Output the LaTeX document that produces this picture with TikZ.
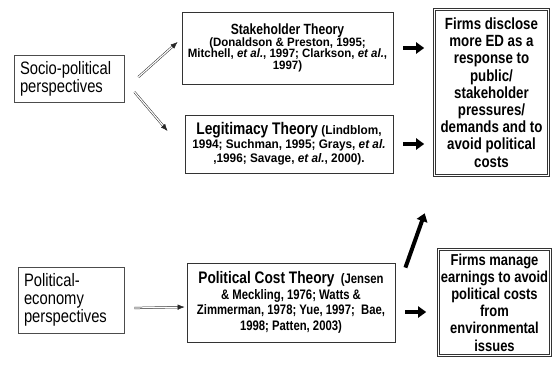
\documentclass[tikz,border=0pt]{standalone}
\usepackage{fontspec}
\setmainfont{Liberation Sans}
\newfontfamily\narrowfont{Liberation Sans}[FakeStretch=0.82]
\newfontfamily\citefont{Liberation Sans}[FakeStretch=0.95]
\usetikzlibrary{arrows.meta}

\begin{document}
\begin{tikzpicture}[x=1pt, y=-1pt]
    \tikzstyle{pblock} = [draw=black!70, line width=0.8pt, rectangle, inner xsep=6pt, inner ysep=0pt,
    align=left, font={\narrowfont\fontsize{18}{18}\selectfont}];
    \tikzstyle{tblock} = [draw=black!80, line width=0.8pt, rectangle, inner sep=0pt, align=center];
    \tikzstyle{rblock} = [draw=black!80, line width=0.6pt, double, double distance=1.8pt, rectangle,
    inner sep=0pt, align=center, font={\narrowfont\bfseries\fontsize{16.2}{17.2}\selectfont}];
    \tikzstyle{dline} = [draw=black!85, line width=0.5pt, double, double distance=1.2pt, -{Latex[length=7pt,width=5.5pt]}];
    \tikzstyle{bline} = [line width=4pt, -{Triangle[length=8pt,width=11pt]}];
    \useasboundingbox (0,0) rectangle (553,367);
    % perspectives
    \node [pblock, text width=98pt, minimum height=47pt] (socio) at (69,78.5) {Socio-political\\perspectives};
    \node [pblock, text width=94pt, minimum height=66pt] (polecon) at (71,300) {Political-\\economy\\perspectives};
    % theories
    \node [tblock, minimum width=211pt, minimum height=72pt,
    font={\citefont\bfseries\fontsize{12.1}{11.7}\selectfont\lineskiplimit=-6pt}] (stake) at (287.5,48)
    {{\narrowfont\fontsize{14.8}{14.8}\selectfont Stakeholder Theory}\\
    (Donaldson \& Preston, 1995;\\
    Mitchell, \textit{et al.}, 1997; Clarkson, \textit{et al.},\\
    1997)};
    \node [tblock, minimum width=208pt, minimum height=58pt,
    font={\citefont\bfseries\fontsize{12.4}{14}\selectfont\lineskiplimit=-6pt}] (legit) at (289,144)
    {{\narrowfont\fontsize{16.8}{16.8}\selectfont Legitimacy Theory} (Lindblom,\\
    1994; Suchman, 1995; Grays, \textit{et al.}\\
    ,1996; Savage, \textit{et al.}, 2000).};
    \node [tblock, minimum width=208pt, minimum height=79pt,
    font={\narrowfont\bfseries\fontsize{13.8}{15.5}\selectfont\lineskiplimit=-6pt}] (polcost) at (291,302.5)
    {{\fontsize{16.7}{16.7}\selectfont Political Cost Theory}\ \ (Jensen\\
    \& Meckling, 1976; Watts \&\\
    Zimmerman, 1978; Yue, 1997;\ \ Bae,\\
    1998; Patten, 2003)};
    % outcomes
    \node [rblock, minimum width=114pt, minimum height=166pt] (disclose) at (491.5,92.5)
    {Firms disclose\\more ED as a\\response to\\public/\\stakeholder\\pressures/\\demands and to\\avoid political\\costs};
    \node [rblock, minimum width=112pt, minimum height=106pt,
    font={\narrowfont\bfseries\fontsize{15.8}{17.2}\selectfont}] (manage) at (494.5,302.5)
    {Firms manage\\earnings to avoid\\political costs\\from\\environmental\\issues};
    % arrows
    \draw[dline] ([xshift=14pt,yshift=1.5pt]socio.east) -- ([xshift=-4pt,yshift=6pt]stake.west);
    \draw[dline] ([xshift=10pt,yshift=-13.5pt]socio.east) -- ([xshift=-17pt,yshift=13pt]legit.west);
    \draw[dline] ([xshift=10pt,yshift=-8pt]polecon.east) -- ([xshift=-2pt,yshift=-4.5pt]polcost.west);
    \draw[bline, shorten <=10pt, shorten >=10pt] (stake.east) -- (stake.east -| disclose.west);
    \draw[bline, shorten <=10pt, shorten >=10pt] (legit.east) -- (legit.east -| disclose.west);
    \draw[bline, shorten <=10pt, shorten >=12pt] ([yshift=-9.5pt]polcost.east) -- ([yshift=-9.5pt]manage.west);
    \draw[bline] ([xshift=10pt,yshift=-5pt]polcost.north east) -- ([xshift=-9.5pt,yshift=-37.5pt]disclose.south west);
\end{tikzpicture}
\end{document}
